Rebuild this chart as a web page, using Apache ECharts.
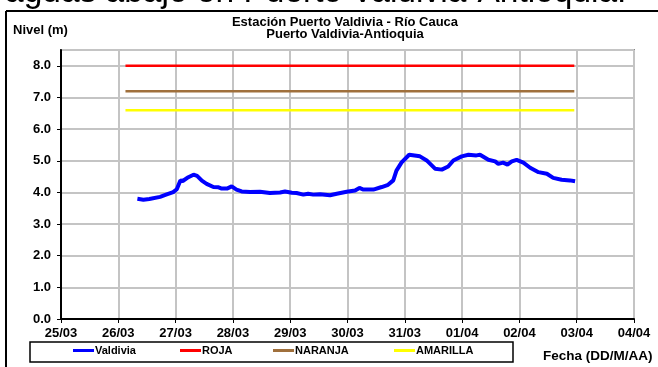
<!DOCTYPE html>
<html><head><meta charset="utf-8">
<script src="https://cdn.jsdelivr.net/npm/echarts@6/dist/echarts.min.js"></script>
<style>html,body{margin:0;padding:0;background:#fff}#c{width:658px;height:367px}</style>
</head><body><div id="c"></div>
<script>
const headerText = 'aguas abajo en Puerto Valdivia-Antioquia.';
const titleLines = ['Estación Puerto Valdivia - Río Cauca', 'Puerto Valdivia-Antioquia'];
const yAxisTitle = 'Nivel (m)';
const xAxisTitle = 'Fecha (DD/M/AA)';
const seriesNames = ['Valdivia', 'ROJA', 'NARANJA', 'AMARILLA'];
const axisStart = '2019-03-25T00:00';
const axisEnd = '2019-04-04T00:00';
const yTicks = [0, 1, 2, 3, 4, 5, 6, 7, 8];
const yMax = 8.5;
const times = [
 '2019-03-26T08:00','2019-03-26T10:30','2019-03-26T13:00','2019-03-26T17:30','2019-03-26T20:00','2019-03-26T23:00',
 '2019-03-27T00:30','2019-03-27T02:00','2019-03-27T03:00','2019-03-27T05:20','2019-03-27T07:30','2019-03-27T09:00',
 '2019-03-27T11:00','2019-03-27T13:00','2019-03-27T15:50','2019-03-27T18:00','2019-03-27T19:20','2019-03-27T21:30',
 '2019-03-27T23:30','2019-03-28T01:30','2019-03-28T03:40','2019-03-28T07:10','2019-03-28T11:20','2019-03-28T15:30',
 '2019-03-28T19:45','2019-03-28T21:50','2019-03-29T00:40','2019-03-29T02:40','2019-03-29T05:30','2019-03-29T07:30',
 '2019-03-29T09:40','2019-03-29T12:30','2019-03-29T16:40','2019-03-29T19:30','2019-03-29T23:40','2019-03-30T03:10',
 '2019-03-30T05:00','2019-03-30T06:40','2019-03-30T10:50','2019-03-30T14:20','2019-03-30T17:00','2019-03-30T19:10',
 '2019-03-30T20:30','2019-03-30T22:40','2019-03-31T01:50','2019-03-31T06:20','2019-03-31T09:10','2019-03-31T12:40',
 '2019-03-31T15:30','2019-03-31T18:10','2019-03-31T20:20','2019-03-31T23:50','2019-04-01T02:40','2019-04-01T06:00',
 '2019-04-01T07:30','2019-04-01T11:00','2019-04-01T13:50','2019-04-01T15:10','2019-04-01T17:10','2019-04-01T19:00',
 '2019-04-01T20:50','2019-04-01T22:50','2019-04-02T01:40','2019-04-02T04:30','2019-04-02T08:00','2019-04-02T11:30',
 '2019-04-02T14:10','2019-04-02T17:40','2019-04-02T21:10','2019-04-02T23:20'
];
const levels = [
 3.80,3.77,3.79,3.86,3.93,4.01,
 4.10,4.38,4.36,4.48,4.56,4.52,
 4.37,4.27,4.17,4.16,4.12,4.12,
 4.19,4.09,4.03,4.01,4.02,3.98,
 4.00,4.03,3.99,3.98,3.93,3.96,
 3.93,3.94,3.91,3.96,4.02,4.06,
 4.14,4.09,4.09,4.17,4.24,4.38,
 4.69,4.95,5.19,5.14,5.01,4.75,
 4.72,4.82,5.01,5.14,5.19,5.17,
 5.19,5.03,4.98,4.90,4.94,4.88,
 4.98,5.03,4.94,4.78,4.64,4.59,
 4.46,4.40,4.38,4.35
];
const thresholdTimes = ['2019-03-26T03:00', '2019-04-02T23:00'];
const rojaLevel = 8.0;
const naranjaLevel = 7.2;
const amarillaLevel = 6.6;

const t = s => Date.parse(s + 'Z');
const DAY = 86400000;
const pad = n => (n < 10 ? '0' : '') + n;
const FONT = '"Liberation Sans", Arial, sans-serif';
const colors = ['#0000FF', '#FF0000', '#A0703C', '#FFFF00'];

const chart = echarts.init(document.getElementById('c'), null, {renderer: 'canvas'});
const thr = v => thresholdTimes.map(s => [t(s), v]);
const legendLefts = [73, 180, 273, 394];

chart.setOption({
  animation: false,
  backgroundColor: '#fff',
  grid: {left: 61, top: 50, width: 573, height: 269, show: true, borderColor: '#888', borderWidth: 2, containLabel: false},
  xAxis: {
    type: 'value', min: t(axisStart), max: t(axisEnd), interval: DAY,
    axisLine: {lineStyle: {color: '#000', width: 2}},
    axisTick: {show: true, length: 4, lineStyle: {color: '#000', width: 1}},
    axisLabel: {margin: 8, color: '#000', fontWeight: 'bold', fontSize: 13, fontFamily: FONT,
      formatter: v => { const d = new Date(v); return pad(d.getUTCDate()) + '/' + pad(d.getUTCMonth() + 1); }},
    splitLine: {show: true, lineStyle: {color: '#c4c4c4', width: 2}}
  },
  yAxis: {
    type: 'value', min: 0, max: yMax, interval: 1,
    axisLine: {lineStyle: {color: '#000', width: 2}},
    axisTick: {show: true, length: 4, lineStyle: {color: '#000', width: 1}},
    axisLabel: {margin: 10, color: '#000', fontWeight: 'bold', fontSize: 13, fontFamily: FONT,
      showMaxLabel: false,
      formatter: v => yTicks.includes(v) ? v.toFixed(1) : ''},
    splitLine: {show: true, lineStyle: {color: '#c4c4c4', width: 2}}
  },
  legend: seriesNames.map((n, i) => ({
    data: [n], left: legendLefts[i], top: 345, itemWidth: 21, itemHeight: 3, icon: 'rect',
    textStyle: {color: '#000', fontWeight: 'bold', fontSize: 11, fontFamily: FONT, padding: [0, 0, 0, -4]}, padding: 0
  })),
  series: [
    {name: seriesNames[0], type: 'line', showSymbol: false, color: colors[0],
     lineStyle: {width: 4, color: colors[0]}, data: times.map((s, i) => [t(s), levels[i]]), z: 5},
    {name: seriesNames[1], type: 'line', showSymbol: false, color: colors[1], lineStyle: {width: 2.5, color: colors[1]}, data: thr(rojaLevel)},
    {name: seriesNames[2], type: 'line', showSymbol: false, color: colors[2], lineStyle: {width: 2.5, color: colors[2]}, data: thr(naranjaLevel)},
    {name: seriesNames[3], type: 'line', showSymbol: false, color: colors[3], lineStyle: {width: 2.5, color: colors[3]}, data: thr(amarillaLevel)}
  ],
  graphic: [
    {type: 'text', left: 5, top: -24, style: {text: headerText, font: '33.5px ' + FONT, fill: '#000'}},
    {type: 'line', shape: {x1: 6, y1: 11, x2: 658, y2: 11}, style: {stroke: '#000', lineWidth: 2}},
    {type: 'line', shape: {x1: 6, y1: 11, x2: 6, y2: 367}, style: {stroke: '#000', lineWidth: 2}},
    {type: 'text', x: 13, y: 30, style: {text: yAxisTitle, font: 'bold 13px ' + FONT, fill: '#000', verticalAlign: 'middle'}},
    {type: 'text', x: 345, y: 22, style: {text: titleLines[0], font: 'bold 13px ' + FONT, fill: '#000', align: 'center', verticalAlign: 'middle'}},
    {type: 'text', x: 345, y: 34, style: {text: titleLines[1], font: 'bold 13px ' + FONT, fill: '#000', align: 'center', verticalAlign: 'middle'}},
    {type: 'rect', shape: {x: 30, y: 342, width: 483, height: 20}, style: {fill: 'none', stroke: '#000', lineWidth: 1.5}},
    {type: 'text', x: 543, y: 356, style: {text: xAxisTitle, font: 'bold 13.5px ' + FONT, fill: '#000', verticalAlign: 'middle'}}
  ]
});
</script></body></html>
